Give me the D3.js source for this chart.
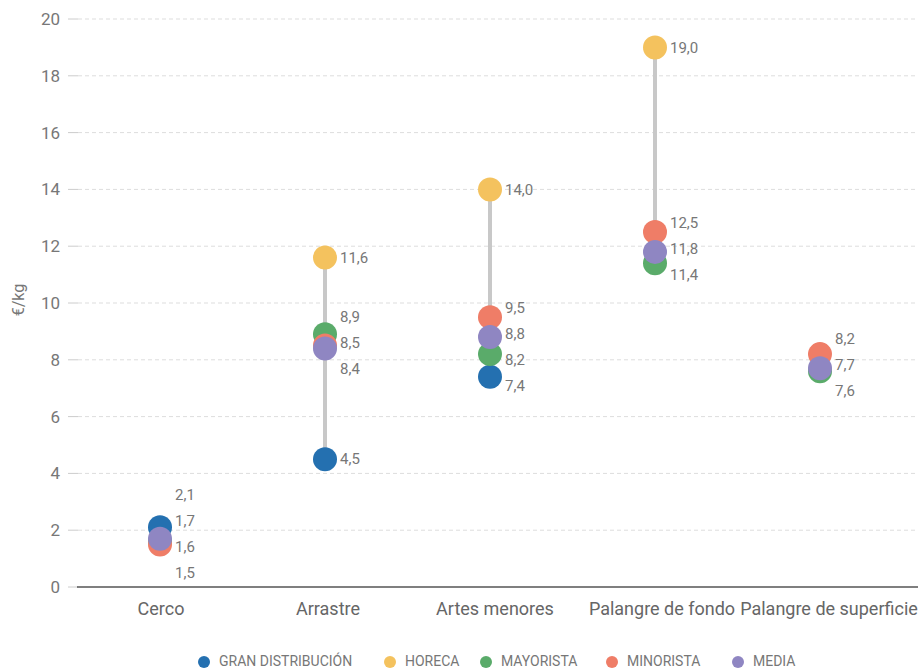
<!DOCTYPE html>
<html><head><meta charset="utf-8">
<script src="https://cdn.jsdelivr.net/npm/d3@7"></script>
<style>
body{margin:0;background:#fff;font-family:Roboto, "Noto Sans", sans-serif;}
</style></head>
<body><svg id="c" width="920" height="670"></svg>
<script>
const categories = ["Cerco","Arrastre","Artes menores","Palangre de fondo","Palangre de superficie"];
const seriesNames = ["GRAN DISTRIBUCIÓN","HORECA","MAYORISTA","MINORISTA","MEDIA"];
const seriesColors = ["#2470b0","#f4c25e","#5aab6a","#ef7d67","#8f86c2"];
const granDistribucion = [2.1, 4.5, 7.4, null, null];
const horeca = [null, 11.6, 14.0, 19.0, null];
const mayorista = [1.6, 8.9, 8.2, 11.4, 7.6];
const minorista = [1.5, 8.5, 9.5, 12.5, 8.2];
const media = [1.7, 8.4, 8.8, 11.8, 7.7];
const yTicks = [0,2,4,6,8,10,12,14,16,18,20];
const seriesValues = [granDistribucion, horeca, mayorista, minorista, media];

const svg = d3.select("#c");
const x = d3.scaleBand().domain(categories).range([77.5, 902.5]);
const xLab = d3.scaleBand().domain(categories).range([77.5, 912.5]);
const y = d3.scaleLinear().domain([0,20]).range([587,19]);
const fmt = v => v.toFixed(1).replace(".", ",");

// grid
svg.append("g").selectAll("line").data(yTicks.filter(t=>t>0)).join("line")
  .attr("x1",78).attr("x2",918).attr("y1",d=>y(d)).attr("y2",d=>y(d))
  .attr("stroke","#ddd").attr("stroke-dasharray","4,3");
// tick marks
svg.append("g").selectAll("line").data(yTicks).join("line")
  .attr("x1",68).attr("x2",78).attr("y1",d=>y(d)).attr("y2",d=>y(d))
  .attr("stroke","#ccc");
svg.append("g").selectAll("text").data(yTicks).join("text")
  .attr("x",60).attr("y",d=>y(d)).attr("dy","0.35em").attr("text-anchor","end")
  .attr("font-size",17).attr("fill","#777").text(d=>d);
svg.append("line").attr("x1",77).attr("x2",918).attr("y1",y(0)).attr("y2",y(0))
  .attr("stroke","#555").attr("stroke-width",1.5);
svg.append("text").attr("transform","translate(24,300) rotate(-90)")
  .attr("text-anchor","middle").attr("font-size",16).attr("fill","#777").text("€/kg");

// category labels
svg.append("g").selectAll("text").data(categories).join("text")
  .attr("x",d=>xLab(d)+xLab.bandwidth()/2).attr("y",609).attr("dy","0.35em")
  .attr("text-anchor","middle").attr("font-size",18).attr("fill","#666").text(d=>d);

categories.forEach((cat,ci)=>{
  const cx = x(cat)+x.bandwidth()/2;
  const pts = [];
  seriesValues.forEach((arr,si)=>{ if(arr[ci]!=null) pts.push({v:arr[ci], si}); });
  const vs = pts.map(p=>p.v);
  svg.append("line").attr("x1",cx).attr("x2",cx)
    .attr("y1",y(d3.min(vs))).attr("y2",y(d3.max(vs)))
    .attr("stroke","#c8c8c8").attr("stroke-width",4);
  pts.forEach(p=>{
    svg.append("circle").attr("cx",cx).attr("cy",y(p.v)).attr("r",12)
      .attr("fill",seriesColors[p.si]);
  });
  const labs = pts.map(p=>({v:p.v, t:y(p.v)})).sort((a,b)=>a.t-b.t);
  const gap = 26;
  const maxY = y(0) - 14;
  let groups = labs.map(l=>({items:[l], c:l.t}));
  let changed = true;
  while(changed){
    changed=false;
    for(let i=0;i<groups.length-1;i++){
      const a=groups[i], b=groups[i+1];
      const aBot = a.c + (a.items.length-1)*gap/2;
      const bTop = b.c - (b.items.length-1)*gap/2;
      if(bTop - aBot < gap){
        const items = a.items.concat(b.items);
        const c = d3.mean(items, d=>d.t);
        groups.splice(i,2,{items, c});
        changed=true; break;
      }
    }
  }
  groups.forEach(g=>{
    let start = g.c - (g.items.length-1)*gap/2;
    const end = start + (g.items.length-1)*gap;
    if(end > maxY) start -= (end - maxY);
    g.items.forEach((l,k)=>{
      svg.append("text").attr("x",cx+15).attr("y",start+k*gap).attr("dy","0.35em")
        .attr("font-size",15).attr("fill","#777").text(fmt(l.v));
    });
  });
});

// legend
const legendX = [204, 390, 486, 612, 738];
const lg = svg.append("g");
seriesNames.forEach((n,i)=>{
  lg.append("circle").attr("cx",legendX[i]).attr("cy",662).attr("r",6).attr("fill",seriesColors[i]);
  lg.append("text").attr("x",legendX[i]+15).attr("y",661).attr("dy","0.35em")
    .attr("font-size",14).attr("fill","#777").text(n);
});
</script>
</body></html>
